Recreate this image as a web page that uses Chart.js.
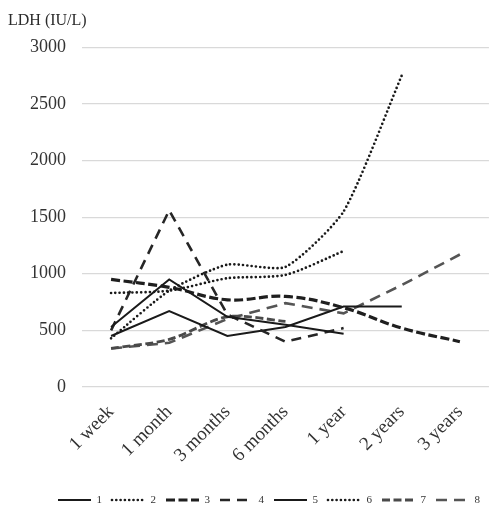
<!DOCTYPE html>
<html>
<head>
<meta charset="utf-8">
<script src="https://cdn.jsdelivr.net/npm/chart.js@4/dist/chart.umd.min.js"></script>
<style>
  html, body { margin: 0; padding: 0; background: #ffffff; }
  #wrap { width: 490px; height: 505px; }
</style>
</head>
<body>
<div id="wrap"><canvas id="ldh" width="490" height="505"></canvas></div>
<script>
// Time points after treatment
const categories = ['1 week', '1 month', '3 months', '6 months', '1 year', '2 years', '3 years'];

// LDH (IU/L) for each patient; null where no measurement exists
const patient1 = [530, 950, 620, 550, 470, null, null];
const patient2 = [830, 850, 960, 990, 1200, null, null];
const patient3 = [950, 880, 770, 800, 700, 520, 400];
const patient4 = [500, 1560, 640, 400, 520, null, null];
const patient5 = [450, 670, 450, 530, 710, 710, null];
const patient6 = [430, 850, 1080, 1060, 1550, 2750, null];
const patient7 = [340, 420, 620, 580, null, null, null];
const patient8 = [340, 390, 600, 740, 650, 900, 1170];

const seriesNames = ['1', '2', '3', '4', '5', '6', '7', '8'];
const yMin = 0, yMax = 3000, yStep = 500;

const serif = '"Liberation Serif", "Times New Roman", serif';

// line style per patient
function style(color, width, dash, cap, tension) {
  return {
    borderColor: color, backgroundColor: color, borderWidth: width,
    borderDash: dash, borderCapStyle: cap, tension: tension,
    pointRadius: 0, pointHoverRadius: 0, fill: false, spanGaps: false
  };
}
const styles = [
  style('#1a1a1a', 2, [], 'butt', 0),
  style('#1a1a1a', 2.7, [0, 4.3], 'round', 0.25),
  style('#1f1f1f', 3.2, [9, 3.5], 'butt', 0.4),
  style('#262626', 2.6, [10, 7], 'butt', 0),
  style('#1a1a1a', 2, [], 'butt', 0),
  style('#1a1a1a', 2.7, [0, 4.3], 'round', 0.2),
  style('#4a4a4a', 2.8, [8, 3.5], 'butt', 0.3),
  style('#555555', 2.6, [11, 7], 'butt', 0)
];
const allData = [patient1, patient2, patient3, patient4, patient5, patient6, patient7, patient8];

const datasets = allData.map((d, i) => Object.assign({ label: seriesNames[i], data: d }, styles[i]));

// legend samples drawn as short strokes in each line's own dash pattern
function legendLabels(chart) {
  const items = Chart.defaults.plugins.legend.labels.generateLabels(chart);
  return items.map((it) => {
    const ds = chart.data.datasets[it.datasetIndex];
    return Object.assign(it, {
      pointStyle: 'line',
      strokeStyle: ds.borderColor,
      lineWidth: ds.borderWidth,
      lineDash: ds.borderDash,
      lineCap: ds.borderCapStyle
    });
  });
}

new Chart(document.getElementById('ldh'), {
  type: 'line',
  data: { labels: categories, datasets: datasets },
  options: {
    responsive: false,
    animation: false,
    layout: { padding: { left: 8, right: 0, top: 8, bottom: -10.5 } },
    plugins: {
      title: {
        display: true, text: 'LDH (IU/L)', align: 'start', color: '#2b2b2b',
        font: { family: serif, size: 16, weight: 'normal' }, padding: { top: 3, bottom: 17 }
      },
      legend: {
        position: 'bottom', align: 'end',
        labels: {
          usePointStyle: true, pointStyle: 'line', pointStyleWidth: 33,
          generateLabels: legendLabels,
          padding: 10, color: '#333333', font: { family: serif, size: 11 }
        }
      },
      tooltip: { enabled: false }
    },
    scales: {
      x: {
        offset: true,
        grid: { display: false, drawTicks: false },
        border: { display: false },
        ticks: {
          minRotation: 45, maxRotation: 45, padding: 14,
          color: '#333333', font: { family: serif, size: 19 }
        },
        afterFit: (s) => { s.height = 97.5; }
      },
      y: {
        min: yMin, max: yMax,
        grid: { color: '#d9d9d9', lineWidth: 1.2, drawTicks: false },
        border: { display: false },
        ticks: {
          stepSize: yStep, padding: 16,
          callback: (v) => String(v),
          color: '#333333', font: { family: serif, size: 18 }
        },
        afterFit: (s) => { s.width = 74; }
      }
    }
  }
});
</script>
</body>
</html>
